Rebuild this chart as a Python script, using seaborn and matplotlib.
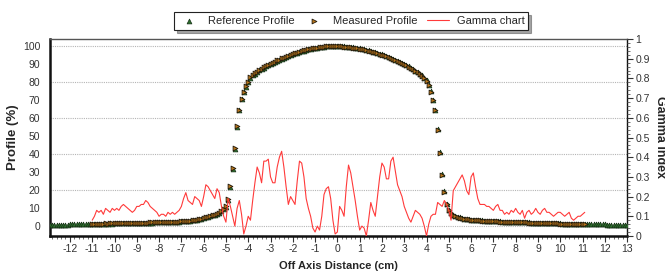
import numpy as np
import pandas as pd
import matplotlib
matplotlib.use("Agg")
import matplotlib.pyplot as plt
import seaborn as sns
from matplotlib.ticker import MultipleLocator

# --- dados ---
# grade de posicoes (cm) dos perfis: -12.9 ... 13.0, passo 0.1
profile_x = np.round(np.arange(-129, 131) / 10.0, 1)

reference_profile = [
    0.6, 0.7, 0.6, 0.7, 0.7, 0.6, 0.7, 0.7, 0.8, 1.0,          # -12.9 .. -12.0
    1.1, 1.1, 1.0, 1.1, 1.1, 1.2, 1.1, 1.2, 1.2, 1.3,          # -11.9 .. -11.0
    1.3, 1.3, 1.4, 1.3, 1.4, 1.4, 1.4, 1.5, 1.4, 1.5,          # -10.9 .. -10.0
    1.5, 1.5, 1.6, 1.5, 1.6, 1.6, 1.7, 1.6, 1.7, 1.7,          # -9.9 .. -9.0
    1.7, 1.8, 1.8, 1.8, 1.9, 1.9, 1.9, 2.0, 2.0, 2.1,          # -8.9 .. -8.0
    2.1, 2.1, 2.2, 2.2, 2.3, 2.3, 2.4, 2.4, 2.5, 2.6,          # -7.9 .. -7.0
    2.7, 2.8, 2.9, 3.0, 3.1, 3.3, 3.5, 3.7, 4.0, 4.3,          # -6.9 .. -6.0
    4.8, 5.1, 5.5, 5.9, 6.3, 6.8, 7.4, 8.2, 9.3, 10.8,         # -5.9 .. -5.0
    14.5, 22.0, 32.0, 43.0, 55.0, 64.5, 70.6, 74.5, 77.6, 80.2,  # -4.9 .. -4.0
    82.6, 83.8, 84.8, 85.7, 86.6, 87.4, 88.1, 88.8, 89.5, 90.2,  # -3.9 .. -3.0
    90.8, 91.4, 92.0, 92.6, 93.1, 93.7, 94.2, 94.7, 95.2, 95.6,  # -2.9 .. -2.0
    96.1, 96.5, 96.9, 97.3, 97.6, 98.0, 98.3, 98.6, 98.8, 99.1,  # -1.9 .. -1.0
    99.3, 99.5, 99.6, 99.8, 99.9, 100.0, 100.1, 100.1, 100.1, 100.0,  # -0.9 .. 0.0
    100.0, 99.9, 99.9, 99.8, 99.7, 99.5, 99.4, 99.2, 99.0, 98.8,  # 0.1 .. 1.0
    98.5, 98.3, 98.0, 97.7, 97.4, 97.0, 96.7, 96.3, 95.9, 95.5,  # 1.1 .. 2.0
    95.0, 94.6, 94.1, 93.6, 93.1, 92.5, 92.0, 91.4, 90.8, 90.1,  # 2.1 .. 3.0
    89.5, 88.8, 88.1, 87.3, 86.5, 85.7, 84.8, 83.8, 82.6, 81.0,  # 3.1 .. 4.0
    78.5, 75.0, 70.2, 64.7, 54.0, 41.0, 29.0, 19.5, 12.5, 9.0,   # 4.1 .. 5.0
    7.4, 6.4, 5.7, 5.2, 4.8, 4.5, 4.2, 4.0, 3.8, 3.6,          # 5.1 .. 6.0
    3.5, 3.4, 3.3, 3.2, 3.1, 3.0, 2.9, 2.9, 2.8, 2.7,          # 6.1 .. 7.0
    2.7, 2.6, 2.6, 2.5, 2.5, 2.4, 2.4, 2.3, 2.3, 2.2,          # 7.1 .. 8.0
    2.2, 2.1, 2.1, 2.0, 2.0, 2.0, 1.9, 1.9, 1.8, 1.8,          # 8.1 .. 9.0
    1.8, 1.7, 1.7, 1.7, 1.6, 1.6, 1.6, 1.5, 1.5, 1.5,          # 9.1 .. 10.0
    1.4, 1.4, 1.4, 1.3, 1.3, 1.3, 1.2, 1.2, 1.2, 1.1,          # 10.1 .. 11.0
    1.1, 1.0, 1.0, 1.0, 1.0, 0.9, 0.9, 0.9, 0.9, 0.9,          # 11.1 .. 12.0
    0.7, 0.7, 0.7, 0.7, 0.7, 0.7, 0.7, 0.7, 0.7, 0.7,          # 12.1 .. 13.0
]

# perfil medido: -11.0 ... 11.1, passo 0.1
measured_x = np.round(np.arange(-110, 112) / 10.0, 1)
measured_profile = [
    1.4,                                                        # -11.0
    1.4, 1.3, 1.4, 1.4, 1.4, 1.5, 1.4, 1.5, 1.5, 1.5,          # -10.9 .. -10.0
    1.5, 1.6, 1.6, 1.6, 1.6, 1.7, 1.7, 1.7, 1.7, 1.8,          # -9.9 .. -9.0
    1.8, 1.8, 1.9, 1.9, 1.9, 2.0, 2.0, 2.0, 2.1, 2.1,          # -8.9 .. -8.0
    2.2, 2.2, 2.2, 2.3, 2.3, 2.4, 2.4, 2.5, 2.5, 2.6,          # -7.9 .. -7.0
    2.7, 2.8, 2.9, 3.0, 3.2, 3.3, 3.5, 3.8, 4.0, 4.4,          # -6.9 .. -6.0
    4.8, 5.2, 5.5, 6.0, 6.4, 6.9, 7.5, 8.3, 9.4, 11.0,         # -5.9 .. -5.0
    14.8, 22.5, 32.5, 43.5, 55.5, 64.8, 70.8, 74.7, 77.8, 80.3,  # -4.9 .. -4.0
    82.7, 83.9, 84.9, 85.8, 86.7, 87.5, 88.2, 88.9, 89.6, 90.2,  # -3.9 .. -3.0
    90.9, 91.5, 92.1, 92.6, 93.2, 93.7, 94.2, 94.7, 95.2, 95.7,  # -2.9 .. -2.0
    96.1, 96.5, 96.9, 97.3, 97.7, 98.0, 98.3, 98.6, 98.9, 99.1,  # -1.9 .. -1.0
    99.3, 99.5, 99.7, 99.8, 99.9, 100.0, 100.0, 100.1, 100.0, 100.0,  # -0.9 .. 0.0
    99.9, 99.9, 99.8, 99.8, 99.6, 99.5, 99.3, 99.1, 98.9, 98.7,  # 0.1 .. 1.0
    98.5, 98.2, 97.9, 97.6, 97.3, 97.0, 96.6, 96.2, 95.8, 95.4,  # 1.1 .. 2.0
    95.0, 94.5, 94.0, 93.5, 93.0, 92.5, 91.9, 91.3, 90.7, 90.1,  # 2.1 .. 3.0
    89.4, 88.7, 88.0, 87.2, 86.4, 85.6, 84.7, 83.7, 82.5, 80.8,  # 3.1 .. 4.0
    78.2, 74.7, 70.0, 64.3, 53.5, 40.5, 28.5, 19.0, 12.2, 8.8,   # 4.1 .. 5.0
    7.3, 6.3, 5.6, 5.1, 4.7, 4.4, 4.1, 3.9, 3.7, 3.5,          # 5.1 .. 6.0
    3.4, 3.3, 3.2, 3.1, 3.0, 2.9, 2.9, 2.8, 2.7, 2.7,          # 6.1 .. 7.0
    2.6, 2.6, 2.5, 2.5, 2.4, 2.4, 2.3, 2.3, 2.2, 2.2,          # 7.1 .. 8.0
    2.1, 2.1, 2.0, 2.0, 2.0, 1.9, 1.9, 1.8, 1.8, 1.8,          # 8.1 .. 9.0
    1.7, 1.7, 1.7, 1.6, 1.6, 1.6, 1.5, 1.5, 1.5, 1.4,          # 9.1 .. 10.0
    1.4, 1.4, 1.3, 1.3, 1.3, 1.2, 1.2, 1.2, 1.1, 1.1,          # 10.1 .. 11.0
    1.1,                                                        # 11.1
]

# indice gamma: -11.0 ... 11.1, passo 0.1
gamma_x = np.round(np.arange(-110, 112) / 10.0, 1)
gamma_index = [
    0.08,                                                                # -11.0
    0.10, 0.13, 0.12, 0.13, 0.11, 0.14, 0.13, 0.12, 0.14, 0.13,          # -10.9 .. -10.0
    0.14, 0.13, 0.15, 0.16, 0.15, 0.14, 0.13, 0.12, 0.13, 0.15,          # -9.9 .. -9.0
    0.15, 0.16, 0.16, 0.18, 0.17, 0.15, 0.14, 0.13, 0.12, 0.10,          # -8.9 .. -8.0
    0.11, 0.11, 0.10, 0.12, 0.11, 0.12, 0.11, 0.12, 0.13, 0.15,          # -7.9 .. -7.0
    0.19, 0.22, 0.18, 0.17, 0.16, 0.20, 0.19, 0.18, 0.15, 0.20,          # -6.9 .. -6.0
    0.26, 0.25, 0.23, 0.21, 0.19, 0.24, 0.22, 0.15, 0.10, 0.07,          # -5.9 .. -5.0
    0.19, 0.15, 0.10, 0.05, 0.14, 0.18, 0.11, 0.01, 0.05, 0.10,          # -4.9 .. -4.0
    0.08, 0.18, 0.27, 0.35, 0.32, 0.27, 0.38, 0.38, 0.39, 0.30,          # -3.9 .. -3.0
    0.27, 0.27, 0.35, 0.40, 0.43, 0.35, 0.25, 0.16, 0.20, 0.18,          # -2.9 .. -2.0
    0.16, 0.28, 0.38, 0.37, 0.30, 0.19, 0.14, 0.10, 0.04, 0.02,          # -1.9 .. -1.0
    0.05, 0.03, 0.10, 0.21, 0.24, 0.25, 0.19, 0.08, 0.01, 0.02,          # -0.9 .. 0.0
    0.15, 0.13, 0.10, 0.25, 0.36, 0.32, 0.25, 0.18, 0.10, 0.03,          # 0.1 .. 1.0
    0.05, 0.04, 0.00, 0.08, 0.17, 0.13, 0.10, 0.20, 0.30, 0.37,          # 1.1 .. 2.0
    0.35, 0.29, 0.29, 0.38, 0.40, 0.33, 0.26, 0.23, 0.20, 0.15,          # 2.1 .. 3.0
    0.12, 0.09, 0.07, 0.10, 0.13, 0.12, 0.11, 0.09, 0.05, 0.00,          # 3.1 .. 4.0
    0.06, 0.10, 0.11, 0.11, 0.17, 0.16, 0.15, 0.18, 0.16, 0.13,          # 4.1 .. 5.0
    0.08, 0.23, 0.25, 0.27, 0.29, 0.31, 0.28, 0.23, 0.21, 0.30,          # 5.1 .. 6.0
    0.32, 0.25, 0.19, 0.16, 0.16, 0.16, 0.15, 0.15, 0.14, 0.13,          # 6.1 .. 7.0
    0.15, 0.16, 0.13, 0.13, 0.11, 0.12, 0.11, 0.13, 0.12, 0.14,          # 7.1 .. 8.0
    0.12, 0.11, 0.13, 0.09, 0.12, 0.13, 0.11, 0.12, 0.14, 0.12,          # 8.1 .. 9.0
    0.11, 0.13, 0.14, 0.12, 0.12, 0.11, 0.10, 0.11, 0.12, 0.12,          # 9.1 .. 10.0
    0.11, 0.10, 0.11, 0.12, 0.09, 0.08, 0.09, 0.10, 0.10, 0.11,          # 10.1 .. 11.0
    0.12,                                                                # 11.1
]

x_ticks = list(range(-12, 14))
profile_ticks = list(range(0, 101, 10))
gamma_ticks = [0, 0.1, 0.2, 0.3, 0.4, 0.5, 0.6, 0.7, 0.8, 0.9, 1]
gamma_tick_labels = ['0', '0.1', '0.2', '0.3', '0.4', '0.5', '0.6', '0.7', '0.8', '0.9', '1']

df_ref = pd.DataFrame({"x": profile_x, "perfil": reference_profile})
df_med = pd.DataFrame({"x": measured_x, "perfil": measured_profile})
df_gamma = pd.DataFrame({"x": gamma_x, "gamma": gamma_index})

# --- estilo ---
sns.set_theme(style="white")
plt.rcParams['font.family'] = ['Liberation Sans', 'DejaVu Sans']
plt.rcParams['axes.unicode_minus'] = False

fig = plt.figure(figsize=(6.65, 2.75), dpi=100)
ax = fig.add_axes([0.075, 0.142, 0.868, 0.716])

ax.grid(False)
for g in range(0, 101, 20):
    ax.axhline(g, color='#b5b5b5', linestyle=(0, (1, 1)), linewidth=0.8, zorder=0)

sns.scatterplot(data=df_ref, x="x", y="perfil", ax=ax, marker='^', s=12,
                color='#2c6e2c', edgecolor='#142e14', linewidth=0.5,
                label='Reference Profile', legend=False, zorder=3)
sns.scatterplot(data=df_med, x="x", y="perfil", ax=ax, marker='>', s=12,
                color='#b9771c', edgecolor='#241a0c', linewidth=0.6,
                label='Measured Profile', legend=False, zorder=4)

ax.set_xlim(-12.9, 13.0)
ax.set_ylim(-5.5, 104)
ax.set_xticks(x_ticks)
ax.xaxis.set_minor_locator(MultipleLocator(0.2))
ax.set_yticks(profile_ticks)
ax.tick_params(axis='x', which='major', direction='out', length=4, width=0.8,
               color='#333333', labelsize=7.5, labelcolor='#333333', pad=1.5, bottom=True)
ax.tick_params(axis='x', which='minor', direction='out', length=2, width=0.6,
               color='#555555', bottom=True)
ax.tick_params(axis='y', length=0, labelsize=7.5, labelcolor='#333333', pad=7)
ax.set_xlabel('Off Axis Distance (cm)', fontsize=8, fontweight='bold', labelpad=5)
ax.set_ylabel('Profile (%)', fontsize=9.5, fontweight='bold', labelpad=3)

for side in ['left', 'bottom']:
    ax.spines[side].set_color('#111111')
    ax.spines[side].set_linewidth(1.8)
ax.spines['top'].set_color('#555555')
ax.spines['top'].set_linewidth(1.0)
ax.spines['right'].set_color('#111111')
ax.spines['right'].set_linewidth(1.0)

# eixo secundario com o gamma
ax2 = ax.twinx()
sns.lineplot(data=df_gamma, x="x", y="gamma", ax=ax2, color='#ff3a3a',
             linewidth=0.8, label='Gamma chart', legend=False, zorder=5)
ax2.set_ylim(0, 1)
ax2.set_yticks(gamma_ticks)
ax2.set_yticklabels(gamma_tick_labels)
ax2.yaxis.set_minor_locator(MultipleLocator(0.02))
ax2.tick_params(axis='y', which='major', direction='out', length=4, width=0.8,
                color='#333333', labelsize=7.5, labelcolor='#333333', pad=2, right=True)
ax2.tick_params(axis='y', which='minor', direction='out', length=2, width=0.6,
                color='#555555', right=True)
ax2.set_ylabel('Gamma Index', fontsize=9, fontweight='bold', rotation=270, va='center')
ax2.yaxis.set_label_coords(1.0575, 0.5)
ax2.set_xlabel('')
ax2.grid(False)
for s in ax2.spines.values():
    s.set_visible(False)

# legenda no topo
h1, l1 = ax.get_legend_handles_labels()
h2, l2 = ax2.get_legend_handles_labels()
leg = fig.legend(h1 + h2, l1 + l2, loc='upper center', bbox_to_anchor=(0.528, 0.975),
                 ncol=3, fontsize=8, frameon=True, fancybox=False, shadow=True,
                 edgecolor='#222222', borderpad=0.35, handlelength=2.0,
                 handletextpad=0.7, columnspacing=0.8, markerscale=1.0)
leg.get_frame().set_linewidth(0.8)

fig.savefig('out.png', dpi=100)
print("Grafico salvo como 'out.png'.")
